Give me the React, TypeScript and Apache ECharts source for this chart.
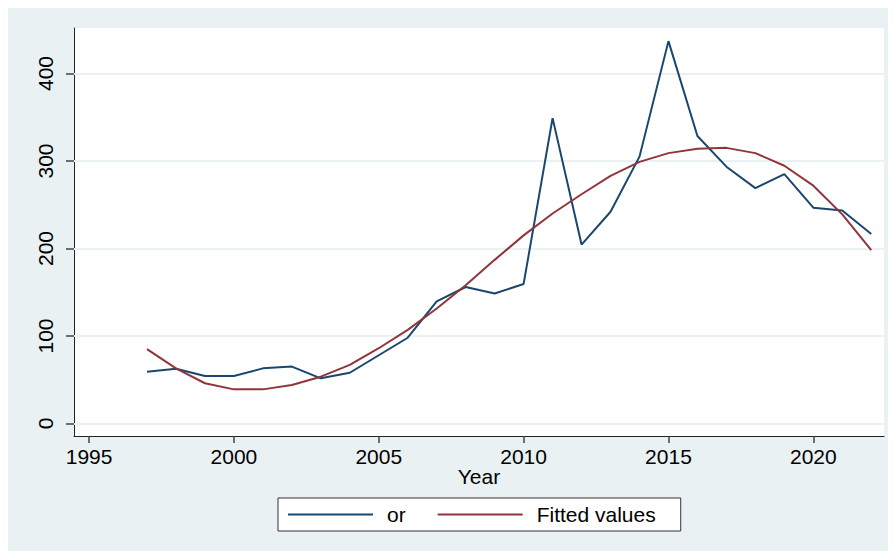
import React, { useEffect, useRef } from "react";
import * as echarts from "echarts";

const years: number[] = [1997, 1998, 1999, 2000, 2001, 2002, 2003, 2004, 2005, 2006, 2007, 2008, 2009, 2010, 2011, 2012, 2013, 2014, 2015, 2016, 2017, 2018, 2019, 2020, 2021, 2022];
const orValues: number[] = [59, 62.6, 54.3, 54.3, 63, 65, 51.6, 58, 78, 98, 139.5, 156, 148.5, 159.5, 349, 204.5, 242, 305, 437, 328.5, 293.5, 269, 285, 246.7, 243.5, 216.5];
const fittedValues: number[] = [85, 63, 46, 39, 39, 44, 53.5, 67, 86, 107, 131.5, 158, 187, 215, 240, 262, 283, 299, 309, 314, 315, 309, 294.6, 271.8, 239, 198];
const xTicks: number[] = [1995, 2000, 2005, 2010, 2015, 2020];
const yTicks: number[] = [0, 100, 200, 300, 400];
const seriesNames: string[] = ["or", "Fitted values"];
const xTitle = "Year";

const FONT = "Arial, 'Liberation Sans', sans-serif";

export default function App() {
  const ref = useRef<HTMLDivElement>(null);
  useEffect(() => {
    if (!ref.current) return;
    const chart = echarts.init(ref.current, null, { renderer: "svg" });
    chart.setOption({
      animation: false,
      backgroundColor: "#eaf1f3",
      grid: { left: 66, top: 20, right: 12, bottom: 115, show: true, backgroundColor: "#ffffff", borderWidth: 0 },
      legend: {
        left: 270,
        top: 490,
        padding: [6, 25, 6, 10],
        backgroundColor: "#ffffff",
        borderColor: "#333333",
        borderWidth: 1,
        borderRadius: 0,
        icon: "rect",
        itemWidth: 85,
        itemHeight: 2,
        itemGap: 32,
        textStyle: { fontFamily: FONT, fontSize: 21, color: "#000000", padding: [0, 0, 0, 9] },
        data: seriesNames,
      },
      xAxis: {
        type: "value",
        min: 1994.48,
        max: 2022.44,
        name: xTitle,
        nameLocation: "middle",
        nameGap: 30,
        nameMoveOverlap: false,
        nameTextStyle: { fontFamily: FONT, fontSize: 21, color: "#000000" },
        axisLine: { show: true, onZero: false, lineStyle: { color: "#222222", width: 1 } },
        axisTick: { show: true, length: 7, lineStyle: { color: "#444444", width: 1.5 }, customValues: xTicks },
        axisLabel: { fontFamily: FONT, fontSize: 21, color: "#000000", margin: 10, customValues: xTicks, formatter: (v: number) => String(v) },
        splitLine: { show: false },
      },
      yAxis: {
        type: "value",
        min: -14.3,
        max: 452,
        axisLine: { show: true, onZero: false, lineStyle: { color: "#222222", width: 1 } },
        axisTick: { show: true, length: 8, lineStyle: { color: "#444444", width: 1.5 }, customValues: yTicks },
        axisLabel: { fontFamily: FONT, fontSize: 21, color: "#000000", rotate: 90, margin: 18, customValues: yTicks, formatter: (v: number) => String(v) },
        splitLine: { show: false },
      },
      series: [
        {
          name: seriesNames[0],
          type: "line",
          data: years.map((y, i) => [y, orValues[i]]),
          symbol: "none",
          lineStyle: { color: "#1a476f", width: 2 },
          itemStyle: { color: "#1a476f" },
          z: 3,
          markLine: {
            silent: true,
            symbol: "none",
            label: { show: false },
            lineStyle: { color: "#eaf1f3", width: 2, type: "solid" },
            data: yTicks.map((t) => ({ yAxis: t })),
            z: 1,
          },
        },
        {
          name: seriesNames[1],
          type: "line",
          data: years.map((y, i) => [y, fittedValues[i]]),
          symbol: "none",
          lineStyle: { color: "#90353b", width: 2 },
          itemStyle: { color: "#90353b" },
          z: 4,
        },
      ],
    });
    return () => chart.dispose();
  }, []);
  return <div ref={ref} style={{ width: 888, height: 543 }} />;
}
